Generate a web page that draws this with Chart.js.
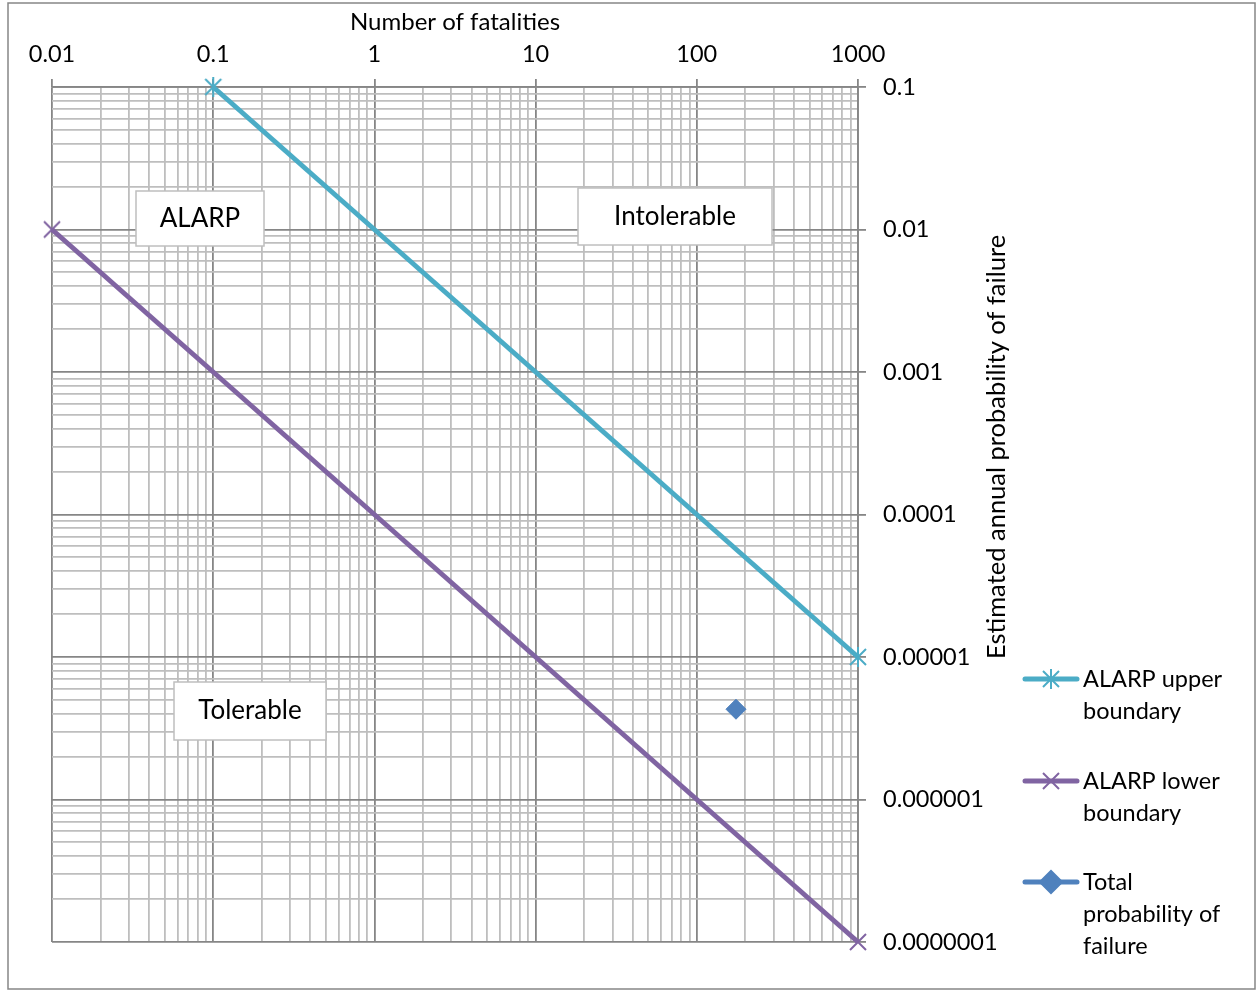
<!DOCTYPE html>
<html lang="en">
<head>
<meta charset="UTF-8">
<title>ALARP F-N chart</title>
<script src="https://cdn.jsdelivr.net/npm/chart.js"></script>
<style>
  html, body { margin: 0; padding: 0; background: #fff; }
  #wrap { width: 1258px; height: 992px; position: relative; }
</style>
</head>
<body>
<div id="wrap"><canvas id="chart" width="1258" height="992"></canvas></div>
<script>
// chart data
const upperX = [0.1, 1000];
const upperY = [0.1, 0.00001];
const lowerX = [0.01, 1000];
const lowerY = [0.01, 0.0000001];
const totalX = [175];
const totalY = [0.0000043];

const xTickLabels = ['0.01', '0.1', '1', '10', '100', '1000'];
const yTickLabels = ['0.0000001', '0.000001', '0.00001', '0.0001', '0.001', '0.01', '0.1'];
const seriesNames = ['ALARP upper boundary', 'ALARP lower boundary', 'Total probability of failure'];
const legendLines = [['ALARP upper', 'boundary'], ['ALARP lower', 'boundary'], ['Total', 'probability of', 'failure']];
const regionLabels = ['ALARP', 'Intolerable', 'Tolerable'];
const xTitle = 'Number of fatalities';
const yTitle = 'Estimated annual probability of failure';

const FONT = 'Lato, "Open Sans", sans-serif';
const MAJOR = '#868686';
const MINOR = '#bebebe';

// 1..9 per decade, majors are the labelled powers of ten
function decadeTicks(labels) {
    const out = [];
    labels.forEach((lab, i) => {
        const base = Number(lab);
        out.push({ value: base });
        if (i < labels.length - 1) {
            for (let k = 2; k <= 9; k++) out.push({ value: k * base });
        }
    });
    return out;
}
function labelFor(labels, v) {
    const hit = labels.find(l => Number(l) === v);
    return hit === undefined ? '' : hit;
}
function isMajor(labels, v) {
    return labels.some(l => Number(l) === v);
}

// excel-like markers
function markerCanvas(color, withBar) {
    const c = document.createElement('canvas');
    c.width = 20; c.height = 20;
    const g = c.getContext('2d');
    g.strokeStyle = color;
    g.lineWidth = 2;
    g.beginPath();
    g.moveTo(2, 2); g.lineTo(18, 18);
    g.moveTo(18, 2); g.lineTo(2, 18);
    if (withBar) { g.moveTo(10, 0); g.lineTo(10, 20); }
    g.stroke();
    return c;
}
const starMark = markerCanvas('#4BACC6', true);
const crossMark = markerCanvas('#8064A2', false);

const pts = (xs, ys) => xs.map((x, i) => ({ x: x, y: ys[i] }));

// outer frame + region boxes + titles
const decorPlugin = {
    id: 'decor',
    beforeDraw(chart) {
        const ctx = chart.ctx;
        ctx.save();
        ctx.fillStyle = '#fff';
        ctx.fillRect(0, 0, chart.width, chart.height);
        ctx.strokeStyle = MAJOR;
        ctx.lineWidth = 1.5;
        ctx.strokeRect(8, 3, 1247, 986);
        ctx.restore();
    },
    afterDatasetsDraw(chart) {
        const ctx = chart.ctx;
        const boxes = [
            { x: 136, y: 191, w: 128, h: 55 },
            { x: 578, y: 188, w: 194, h: 57 },
            { x: 174, y: 682, w: 152, h: 58 }
        ];
        ctx.save();
        boxes.forEach((b, i) => {
            ctx.fillStyle = '#fff';
            ctx.fillRect(b.x, b.y, b.w, b.h);
            ctx.strokeStyle = '#bfbfbf';
            ctx.lineWidth = 1.5;
            ctx.strokeRect(b.x, b.y, b.w, b.h);
            ctx.fillStyle = '#000';
            ctx.font = '26px ' + FONT;
            ctx.textAlign = 'center';
            ctx.textBaseline = 'middle';
            ctx.fillText(regionLabels[i], b.x + b.w / 2, b.y + b.h / 2);
        });

        // axis titles
        const area = chart.chartArea;
        ctx.font = '24px ' + FONT;
        ctx.fillText(xTitle, (area.left + area.right) / 2, 22);
        ctx.translate(997, 447);
        ctx.rotate(-Math.PI / 2);
        ctx.font = '25.5px ' + FONT;
        ctx.fillText(yTitle, 0, 0);
        ctx.restore();
    }
};

// legend with wrapped labels on the right
const sideLegend = {
    id: 'sideLegend',
    afterDraw(chart) {
        const ctx = chart.ctx;
        const rows = [679, 781, 882];
        ctx.save();
        chart.data.datasets.forEach((ds, i) => {
            const y = rows[i];
            ctx.strokeStyle = ds.borderColor;
            ctx.lineWidth = 5;
            ctx.lineCap = 'round';
            ctx.beginPath();
            ctx.moveTo(1025, y);
            ctx.lineTo(1077, y);
            ctx.stroke();
            ctx.fillStyle = ds.pointBackgroundColor || ds.borderColor;
            ctx.strokeStyle = ds.pointBorderColor || ds.borderColor;
            Chart.helpers.drawPoint(ctx, {
                pointStyle: ds.pointStyle,
                radius: ds.pointStyle === 'rectRot' ? 9 : ds.pointRadius,
                rotation: 0,
                borderWidth: 1
            }, 1051, y);
            ctx.fillStyle = '#000';
            ctx.font = '23.5px ' + FONT;
            ctx.textAlign = 'left';
            ctx.textBaseline = 'middle';
            legendLines[i].forEach((t, j) => ctx.fillText(t, 1083, y + j * 32));
        });
        ctx.restore();
    }
};

const ctx = document.getElementById('chart').getContext('2d');
new Chart(ctx, {
    type: 'line',
    data: {
        datasets: [
            {
                label: seriesNames[0],
                data: pts(upperX, upperY),
                borderColor: '#4BACC6',
                borderWidth: 5,
                pointStyle: starMark,
                pointRadius: 10,
                clip: false
            },
            {
                label: seriesNames[1],
                data: pts(lowerX, lowerY),
                borderColor: '#8064A2',
                borderWidth: 5,
                pointStyle: crossMark,
                pointRadius: 10,
                clip: false
            },
            {
                label: seriesNames[2],
                data: pts(totalX, totalY),
                borderColor: '#4F81BD',
                backgroundColor: '#4F81BD',
                pointBackgroundColor: '#4F81BD',
                pointBorderColor: '#4F81BD',
                pointStyle: 'rectRot',
                pointRadius: 10,
                showLine: false,
                clip: false
            }
        ]
    },
    options: {
        responsive: false,
        animation: false,
        layout: { padding: { left: 52, right: 0, top: 0, bottom: 50 } },
        plugins: {
            legend: { display: false },
            tooltip: { enabled: false }
        },
        scales: {
            x: {
                type: 'logarithmic',
                position: 'top',
                min: 0.01,
                max: 1000,
                afterBuildTicks: s => { s.ticks = decadeTicks(xTickLabels); },
                afterFit: s => { s.height = 87; },
                ticks: {
                    autoSkip: false,
                    maxRotation: 0,
                    padding: 10,
                    color: '#000',
                    font: { family: FONT, size: 23.5 },
                    callback: v => labelFor(xTickLabels, v)
                },
                grid: {
                    color: c => isMajor(xTickLabels, c.tick.value) ? MAJOR : MINOR,
                    tickColor: c => isMajor(xTickLabels, c.tick.value) ? MAJOR : 'rgba(0,0,0,0)',
                    tickLength: 8,
                    lineWidth: 1.8
                },
                border: { display: true, color: MAJOR, width: 1.8 }
            },
            y: {
                type: 'logarithmic',
                position: 'right',
                min: 0.0000001,
                max: 0.1,
                afterBuildTicks: s => { s.ticks = decadeTicks(yTickLabels); },
                afterFit: s => { s.width = 400; },
                ticks: {
                    autoSkip: false,
                    padding: 17,
                    color: '#000',
                    font: { family: FONT, size: 23.5 },
                    callback: v => labelFor(yTickLabels, v)
                },
                grid: {
                    color: c => isMajor(yTickLabels, c.tick.value) ? MAJOR : MINOR,
                    tickColor: c => isMajor(yTickLabels, c.tick.value) ? MAJOR : 'rgba(0,0,0,0)',
                    tickLength: 8,
                    lineWidth: 1.8
                },
                border: { display: true, color: MAJOR, width: 1.8 }
            }
        }
    },
    plugins: [decorPlugin, sideLegend]
});
</script>
</body>
</html>
